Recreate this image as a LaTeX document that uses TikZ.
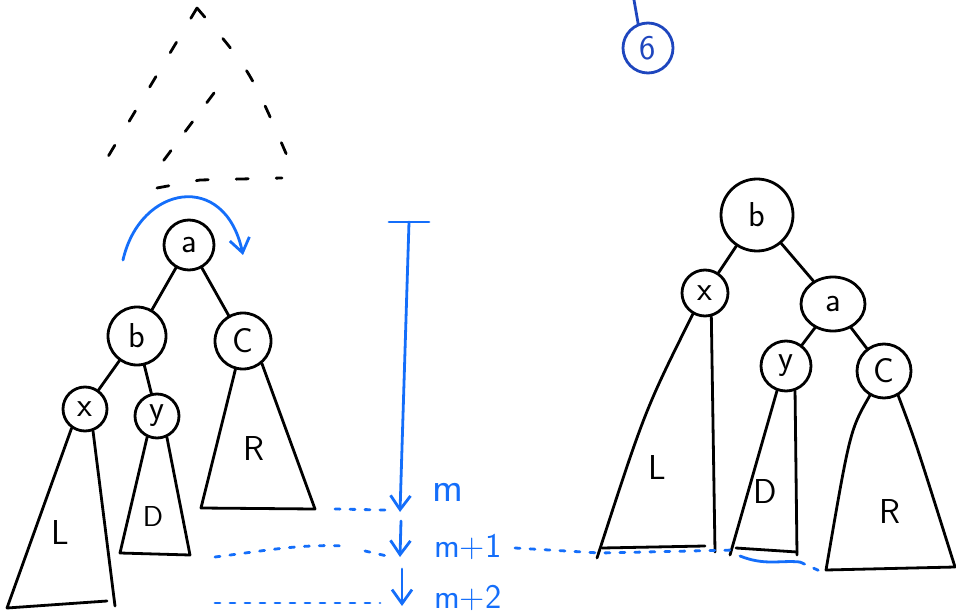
\documentclass[tikz,border=0pt]{standalone}
\usetikzlibrary{arrows.meta, shapes.geometric}
\definecolor{pen}{RGB}{20,110,250}
\definecolor{ink}{RGB}{30,70,190}

\begin{document}
\begin{tikzpicture}[x=0.5pt, y=-0.5pt, line width=1.4pt, line cap=round, line join=round,
    every node/.style={font=\sffamily\LARGE},
    knot/.style={circle, draw, fill=white, inner sep=0pt},
    tip/.style={-{Straight Barb[length=7pt, width=10pt, line width=1.4pt]}},
    dots/.style={pen, dash pattern=on 2.5pt off 5pt}]
            \useasboundingbox (0,0) rectangle (956,614);

            % Draw rest of tree (dashed)
            \draw[dash pattern=on 6pt off 14pt] (197,8) -- (103,165);
            \draw[dash pattern=on 6pt off 14pt] (197,8) .. controls (250,70) .. (288,158);
            \draw[dash pattern=on 6pt off 14pt] (157,188) -- (200,180) -- (282,178);
            \draw[dash pattern=on 6pt off 12pt] (214,93) -- (155,172);

            % Draw nodes (left)
            \node[knot, minimum size=25pt] (a1) at (189,245) {a};
            \node[knot, minimum size=29pt] (b1) at (137,336) {b};
            \node[knot, minimum size=28pt] (c1) at (243,341) {C};
            \node[knot, minimum size=22pt] (x1) at (85,409) {x};
            \node[knot, minimum size=22pt] (y1) at (157,416) {y};

            % Draw connections (left)
            \draw (a1) -- (b1);
            \draw (a1) -- (c1);
            \draw (b1) -- (x1);
            \draw (b1) -- (y1);

            % Draw subtrees (left)
            \draw (x1.235) -- (7,608) -- (107,601);
            \draw (x1.290) -- (115,606);
            \draw (y1.245) -- (120,553) -- (190,555) -- (y1.295);
            \draw (c1.255) -- (201,508) -- (315,509) -- (c1.310);
            \node (l1) at (60,533) {L};
            \node (d1) at (153,517) {\Large D};
            \node (r1) at (254,449) {R};

            % Draw rotation arrow
            \draw[pen, tip] (123,260) .. controls (140,185) and (225,170) .. (243,255);

            % Draw heights
            \node[pen, anchor=west, font=\sffamily\huge] (m0) at (424,492) {m};
            \node[pen, anchor=west] (m1) at (426,547) {m+1};
            \node[pen, anchor=west] (m2) at (426,598) {m+2};
            \coordinate (top) at (409,222);
            \coordinate (h0) at (400,512);
            \draw[pen] (389,222) -- (429,222);
            \draw[pen, tip] (top) -- (h0);
            \draw[pen, tip] (401,521) -- (400,557);
            \draw[pen, tip] (402,569) -- (402,606);
            \draw[dots] (335,509) -- (385,510);
            \draw[dots] (215,557) .. controls (270,550) and (300,544) .. (345,546);
            \draw[dots] (365,551) -- (387,556);
            \draw[dots] (215,603) -- (380,603);

            % Draw step number
            \node[knot, draw=ink, text=ink, minimum size=25pt] (six) at (648,48) {6};
            \draw[ink] (six.112) -- (634,0);

            % Draw nodes (right)
            \node[knot, minimum size=36pt] (b2) at (757,215) {b};
            \node[knot, minimum size=23pt] (x2) at (705,293) {x};
            \node[draw, fill=white, inner sep=0pt, ellipse, minimum width=32pt, minimum height=27pt] (a2) at (833,304) {a};
            \node[knot, minimum size=25pt] (y2) at (786,366) {y};
            \node[knot, minimum size=27pt] (c2) at (884,371) {C};

            % Draw connections (right)
            \draw (b2) -- (x2);
            \draw (b2) -- (a2);
            \draw (a2) -- (y2);
            \draw (a2) -- (c2);

            % Draw subtrees (right)
            \draw (x2.240) .. controls (645,410) .. (597,558);
            \draw (x2.285) -- (715,552);
            \draw (602,548) -- (705,546);
            \draw (y2.250) -- (730,555);
            \draw (y2.290) -- (797,555);
            \draw (736,548) -- (797,552);
            \draw (c2.240) .. controls (850,430) .. (826,570) -- (955,567);
            \draw (c2.300) .. controls (915,440) .. (955,567);
            \node (l2) at (657,468) {L};
            \node (d2) at (765,492) {D};
            \node (r2) at (890,512) {R};

            % Draw level line (right)
            \draw[dots] (515,548) -- (600,553) -- (735,550);
            \draw[pen] (740,556) .. controls (765,566) and (780,560) .. (800,562);
            \draw[dots] (800,562) -- (822,572);
        \end{tikzpicture}
\end{document}
